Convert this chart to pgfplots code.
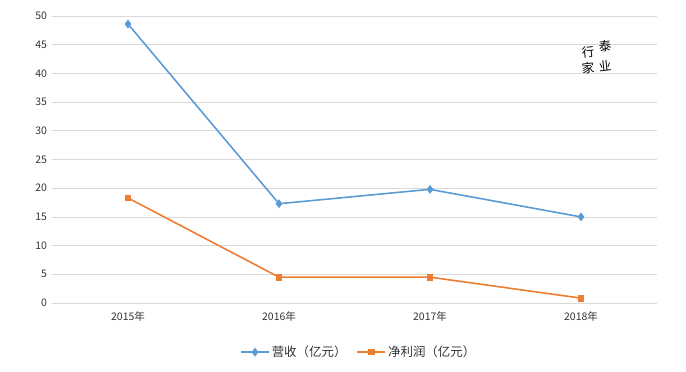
\documentclass[border=0pt]{standalone}
\usepackage{pgfplots}
\pgfplotsset{compat=1.18}
\usepackage{fontspec}
\setmainfont{Noto Sans CJK SC}
\definecolor{cblue}{HTML}{5B9BD5}
\definecolor{corange}{HTML}{ED7D31}
\definecolor{cgrid}{HTML}{D9D9D9}
\definecolor{ctext}{HTML}{333333}
\begin{document}
\begin{tikzpicture}[x=1bp,y=1bp]
\path[use as bounding box] (-52.5,-68) rectangle (633.5,303);
\begin{axis}[
  at={(0,0)}, anchor=south west,
  scale only axis, width=604bp, height=287bp,
  xmin=-0.5, xmax=3.5, ymin=0, ymax=50,
  xtick={0,1,2,3}, xticklabels={2015年,2016年,2017年,2018年},
  ytick={0,5,...,50},
  ymajorgrids, grid style={cgrid, line width=0.8pt},
  axis x line*=bottom, axis y line*=left,
  x axis line style={cgrid, line width=0.8pt, -},
  y axis line style={draw=none},
  major tick length=0pt,
  tick label style={font=\fontsize{10.5}{12}\selectfont, text=ctext},
  yticklabel style={xshift=-2bp},
  xticklabel style={yshift=-5bp},
  /pgf/number format/assume math mode=true,
  legend style={at={(0.507,-0.171)}, anchor=center, draw=none, fill=none,
    font=\fontsize{12.5}{14}\selectfont, text=ctext, legend columns=2,
    /tikz/every even column/.append style={column sep=8bp}},
  legend image code/.code={\draw[#1] (0bp,0bp) -- (28bp,0bp); \draw[#1,mark repeat=1] plot coordinates {(14bp,0bp)};},
]
\addplot[cblue, line width=1.6pt, mark=diamond*, mark size=3.2pt, mark options={solid, fill=cblue}]
  coordinates {(0,48.6) (1,17.3) (2,19.8) (3,15.0)};
\addlegendentry{营收（亿元）}
\addplot[corange, line width=1.6pt, mark=square*, mark size=2.6pt, mark options={solid, fill=corange}]
  coordinates {(0,18.3) (1,4.5) (2,4.5) (3,0.85)};
\addlegendentry{净利润（亿元）}
\end{axis}
\begin{scope}[every node/.style={font=\fontsize{12.5}{13}\selectfont, rotate=6}]
\node at (535.5,251) {行};
\node at (552.5,257) {泰};
\node at (535.5,235) {家};
\node at (552.5,237) {业};
\end{scope}
\end{tikzpicture}
\end{document}
